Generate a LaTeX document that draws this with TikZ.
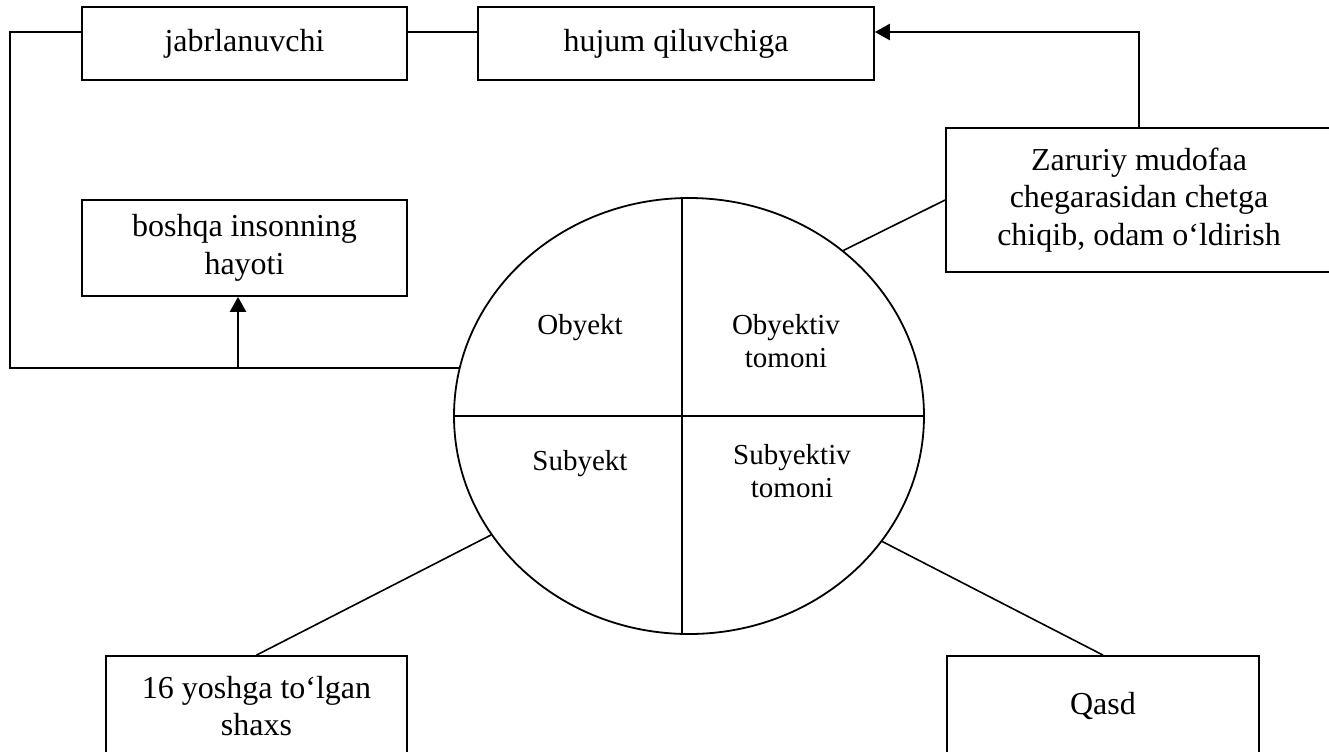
\documentclass[tikz,border=0pt]{standalone}
\usepackage{fontspec}
\setmainfont{Liberation Serif}
\usetikzlibrary{arrows.meta,shapes.geometric}
\begin{document}
\begin{tikzpicture}[x=0.5pt,y=-0.5pt,
  box/.style={draw,line width=0.9pt,inner sep=0pt,align=center,font=\fontsize{16}{18.7}\selectfont},
  etext/.style={align=center,inner sep=0pt,font=\fontsize{14.5}{16.5}\selectfont},
  conn/.style={line width=0.8pt},
  arr/.style={line width=1.3pt,-{Triangle[length=7.5pt,width=8pt]}}]
\useasboundingbox (0,0) rectangle (1329,751);
\fill[white] (0,0) rectangle (1329,751);
% boxes
\node[box,minimum width=162.5pt,minimum height=36.5pt] (jabr) at (244.5,43.5) {jabrlanuvchi};
\node[box,minimum width=198pt,minimum height=36.5pt] (huj) at (676,43.5) {hujum qiluvchiga};
\node[box,minimum width=162.5pt,minimum height=48pt] (bosh) at (244.5,248) {boshqa insonning\\hayoti};
\node[box,minimum width=193pt,minimum height=72pt] (zar) at (1139,200) {Zaruriy mudofaa\\chegarasidan chetga\\chiqib, odam o‘ldirish};
\node[box,minimum width=150.5pt,minimum height=50pt] (yosh) at (256.5,706) {16 yoshga to‘lgan\\shaxs};
\node[box,minimum width=156pt,minimum height=50pt] (qasd) at (1103,706) {Qasd};
% ellipse
\node[draw,ellipse,line width=0.9pt,inner sep=0pt,minimum width=235pt,minimum height=218pt] (E) at (689,416) {};
\draw[conn] (E.west) -- (E.east);
\draw[conn] (682,198) -- (682,634);
\node[etext] (ob) at (580,328) {Obyekt};
\node[etext] (obt) at (786,341) {Obyektiv\\tomoni};
\node[etext] (sb) at (580,464) {Subyekt};
\node[etext] (sbt) at (792,471) {Subyektiv\\tomoni};
% connectors
\coordinate (jL) at (10,32);
\coordinate (bL) at (10,368);
\coordinate (aB) at (238,368);
\draw[conn] (jabr.west |- jL) -- (jL) -- (bL) -- (E.168.2 |- bL);
\draw[conn] (jabr.east |- jL) -- (huj.west |- jL);
\draw[arr] (aB) -- (aB |- bosh.south);
\draw[arr] (zar.north) |- (huj.east |- jL);
\draw[conn] (zar.west) -- (E.47);
\draw[conn] (yosh.north) -- (E.211.2);
\draw[conn] (qasd.north) -- (E.327.3);
\end{tikzpicture}
\end{document}
